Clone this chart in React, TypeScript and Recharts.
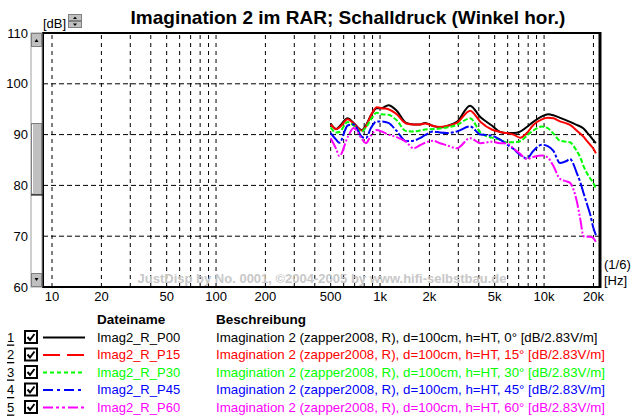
import React from "react";
import { LineChart, Line, XAxis, YAxis, ReferenceLine } from "recharts";

const freqs = [500, 540, 565, 635, 690, 773, 820, 880, 955, 1024, 1124, 1264, 1440, 1600, 1750, 1880, 2110, 2320, 2550, 2940, 3540, 4100, 4800, 5400, 5900, 6500, 7150, 7850, 8600, 9700, 10600, 11400, 12500, 13700, 14400, 15100, 15800, 16600, 17400, 18200, 19100, 20000, 20700];

const p00 = [92.2, 91.1, 91.6, 93.2, 92.3, 90.9, 91.8, 93.8, 95.2, 95.2, 95.8, 94.7, 92.3, 92.0, 92.0, 92.3, 91.7, 91.4, 91.7, 92.5, 95.7, 93.4, 91.8, 90.5, 90.3, 90.3, 90.6, 91.5, 92.5, 93.6, 94.0, 93.8, 93.3, 92.8, 92.5, 92.2, 91.9, 91.6, 91.2, 90.5, 89.7, 88.9, 88.3];
const p15 = [92.0, 91.1, 91.4, 93.0, 92.2, 90.8, 91.6, 93.8, 95.4, 95.2, 95.0, 94.0, 92.2, 92.0, 92.0, 92.2, 91.7, 91.5, 91.7, 92.3, 94.7, 92.5, 91.0, 90.5, 90.3, 90.0, 89.4, 90.3, 91.9, 93.0, 93.3, 93.2, 92.6, 92.2, 91.9, 91.4, 90.8, 90.2, 89.6, 88.8, 88.0, 87.2, 86.3];
const p30 = [91.4, 90.4, 90.5, 92.5, 91.8, 90.6, 91.4, 93.0, 94.3, 94.0, 93.9, 92.8, 90.7, 90.6, 90.8, 91.0, 91.1, 91.2, 91.4, 91.9, 93.2, 90.4, 89.4, 89.0, 88.5, 88.5, 88.7, 89.8, 90.8, 91.6, 91.2, 90.2, 88.8, 88.6, 88.5, 87.8, 86.8, 85.6, 83.8, 82.5, 81.4, 80.4, 79.4];
const p45 = [90.3, 89.0, 88.4, 91.8, 92.0, 89.6, 89.3, 91.3, 92.6, 92.6, 92.3, 90.7, 88.7, 88.8, 89.3, 89.9, 90.6, 90.4, 90.3, 90.6, 91.6, 90.0, 89.8, 89.0, 88.1, 87.2, 86.0, 85.3, 86.8, 88.0, 87.7, 86.8, 84.4, 84.8, 85.2, 84.2, 82.5, 80.7, 78.5, 76.5, 74.3, 71.6, 70.2];
const p60 = [89.3, 87.2, 85.8, 89.5, 91.3, 89.2, 88.3, 89.8, 90.9, 90.6, 90.0, 89.5, 88.6, 87.3, 87.9, 88.4, 88.8, 88.3, 87.9, 87.3, 89.3, 88.3, 88.6, 88.3, 88.3, 87.3, 86.2, 85.2, 85.6, 85.9, 85.4, 83.8, 81.3, 80.8, 80.5, 79.2, 77.0, 73.5, 70.0, 69.9, 69.9, 69.6, 68.9];

const xTicks = [10, 20, 50, 100, 200, 500, 1000, 2000, 5000, 10000, 20000];
const yTicks = [60, 70, 80, 90, 100, 110];
const yGrid = [70, 80, 90, 100];
const xGrid = [
  10, 20, 30, 40, 50, 60, 70, 80, 90,
  100, 200, 300, 400, 500, 600, 700, 800, 900,
  1000, 2000, 3000, 4000, 5000, 6000, 7000, 8000, 9000,
  10000, 20000,
];

const series = [
  { key: "p00", name: "Imag2_R_P00", angle: "0°", color: "#000000", dash: undefined, legendDash: undefined },
  { key: "p15", name: "Imag2_R_P15", angle: "15°", color: "#ff0000", dash: undefined, legendDash: "17 7" },
  { key: "p30", name: "Imag2_R_P30", angle: "30°", color: "#00ff00", dash: "5 2", legendDash: "4 3" },
  { key: "p45", name: "Imag2_R_P45", angle: "45°", color: "#0000ff", dash: "14 2 3 2", legendDash: "10 4 3 4" },
  { key: "p60", name: "Imag2_R_P60", angle: "60°", color: "#ff00ff", dash: "12 2 2 2 2 2", legendDash: "10 3 3 3 3 3" },
];

const rows = freqs.map((f, i) => ({
  f,
  p00: p00[i],
  p15: p15[i],
  p30: p30[i],
  p45: p45[i],
  p60: p60[i],
}));

const fmtHz = (v: number) => (v >= 1000 ? `${v / 1000}k` : `${v}`);

const FONT = "'Liberation Sans', Arial, sans-serif";

function Overlay() {
  const rowY = [337, 354.5, 372, 389.5, 407];
  return (
    <svg width={632} height={419} style={{ position: "absolute", left: 0, top: 0, pointerEvents: "none" }} fontFamily={FONT}>
      {/* plot frame */}
      <rect x={43} y={33} width={557} height={254} fill="none" stroke="#000" strokeWidth={2} />
      <line x1={600} y1={32} x2={600} y2={288} stroke="#000" strokeWidth={3} />

      {/* scrollbar */}
      <rect x={31} y={33} width={11} height={254} fill="#ffffff" stroke="#a0a0a0" strokeWidth={1} />
      <rect x={31.5} y={33.5} width={10} height={13} fill="#c0c0c0" stroke="#808080" />
      <path d="M34.5 42 L38.5 42 L36.5 39 Z" fill="#000" />
      <rect x={31.5} y={123.5} width={10} height={71} fill="#c0c0c0" stroke="#808080" />
      <line x1={32.5} y1={124.5} x2={32.5} y2={193} stroke="#fff" />
      <line x1={31} y1={195} x2={43} y2={195} stroke="#000" />
      <rect x={31.5} y={273.5} width={10} height={13} fill="#c0c0c0" stroke="#808080" />
      <path d="M34.5 278 L38.5 278 L36.5 281 Z" fill="#000" />

      {/* [dB] and spin */}
      <text x={43} y={23} fontSize={13} dominantBaseline="central">[dB]</text>
      <rect x={68.5} y={14.5} width={13} height={6} fill="#c0c0c0" stroke="#808080" />
      <rect x={68.5} y={21.5} width={13} height={6} fill="#c0c0c0" stroke="#808080" />
      <path d="M73 19 L77 19 L75 16.5 Z" fill="#000" />
      <path d="M73 23.5 L77 23.5 L75 26 Z" fill="#000" />

      {/* title */}
      <text x={348} y={17} fontSize={19} fontWeight="bold" textAnchor="middle" dominantBaseline="central">
        Imagination 2 im RAR; Schalldruck (Winkel hor.)
      </text>

      {/* watermark */}
      <text x={322} y={278} fontSize={13} fontWeight="bold" fill="#c8c8c8" textAnchor="middle" dominantBaseline="central">
        JustDisp by No. 0001, ©2004-2005 by www.hifi-selbstbau.de
      </text>

      <text x={604} y={264} fontSize={13} dominantBaseline="central">(1/6)</text>
      <text x={604} y={280} fontSize={13} dominantBaseline="central">[Hz]</text>

      {/* legend table */}
      <text x={97} y={319} fontSize={13.5} fontWeight="bold" dominantBaseline="central">Dateiname</text>
      <text x={216} y={319} fontSize={13.5} fontWeight="bold" dominantBaseline="central">Beschreibung</text>
      {series.map((s, i) => {
        const cy = rowY[i];
        return (
          <g key={s.key}>
            <text x={7} y={cy} fontSize={13} textDecoration="underline" dominantBaseline="central">{i + 1}</text>
            <rect x={25} y={cy - 6} width={12} height={12} fill="#fff" stroke="#000" strokeWidth={2} />
            <polyline points={`${27.5},${cy} ${30},${cy + 3} ${34.5},${cy - 3}`} fill="none" stroke="#000" strokeWidth={2} />
            <line x1={43} y1={cy + 0.5} x2={85} y2={cy + 0.5} stroke={s.color} strokeWidth={2} strokeDasharray={s.legendDash} />
            <text x={97} y={cy} fontSize={13} fill={s.color} dominantBaseline="central">{s.name}</text>
            <text x={216} y={cy} fontSize={13.3} fill={s.color} dominantBaseline="central">
              {`Imagination 2 (zapper2008, R), d=100cm, h=HT, ${s.angle} [dB/2.83V/m]`}
            </text>
          </g>
        );
      })}
    </svg>
  );
}

export default function App() {
  return (
    <div style={{ position: "absolute", left: 0, top: 0, width: 632, height: 419, background: "#fff", fontFamily: FONT }}>
      <LineChart width={632} height={419} data={rows} margin={{ top: 33, right: 32, bottom: 0, left: 0 }}>
        <XAxis
          dataKey="f"
          type="number"
          scale="log"
          domain={[8.81, 21930]}
          allowDataOverflow
          ticks={xTicks}
          tickFormatter={fmtHz}
          height={132}
          tickLine={false}
          axisLine={false}
          tickSize={0}
          tickMargin={5}
          interval={0}
          tick={{ fontSize: 13, fill: "#000" }}
        />
        <YAxis
          type="number"
          domain={[60, 110]}
          ticks={yTicks}
          width={43}
          tickLine={false}
          axisLine={false}
          tickSize={0}
          tickMargin={15}
          interval={0}
          tick={{ fontSize: 13, fill: "#000" }}
        />
        {xGrid.map((f) => (
          <ReferenceLine key={`vx${f}`} x={f} stroke="#000" strokeDasharray="4 4" strokeWidth={1} />
        ))}
        {yGrid.map((v) => (
          <ReferenceLine key={`hy${v}`} y={v} stroke="#000" strokeDasharray="5 3" strokeWidth={1} />
        ))}
        {series.map((s) => (
          <Line
            key={s.key}
            dataKey={s.key}
            type="monotone"
            stroke={s.color}
            strokeWidth={2}
            strokeDasharray={s.dash}
            dot={false}
            activeDot={false}
            isAnimationActive={false}
          />
        ))}
      </LineChart>
      <Overlay />
    </div>
  );
}
